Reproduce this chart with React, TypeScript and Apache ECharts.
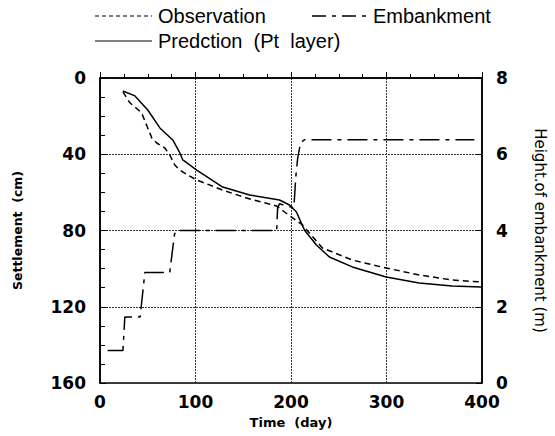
import React, { useEffect, useRef } from "react";
import * as echarts from "echarts";

// Observation (dashed)
const obsDays = [24, 31.3, 43.5, 50, 54.3, 59.5, 67.9, 73.1, 78.3, 83.6, 91.9, 101.3, 128.5, 153.5, 184.8, 193.2, 212, 232.9, 264.2, 299.7, 334.2, 368.7, 399];
const obsSettle = [7.3, 13, 18.2, 26.2, 31.5, 34.1, 36.7, 40.4, 45.6, 48.3, 50.9, 53.5, 58.8, 63, 67.1, 70.3, 77.1, 89.2, 95.5, 99.7, 103.3, 106, 107];

// Prediction (solid)
const predDays = [24, 36.6, 50, 62.7, 76.2, 83.6, 86.7, 101.3, 128.5, 156.7, 188, 198.4, 205.7, 214, 226.6, 240.2, 264.2, 299.7, 334.2, 368.7, 399];
const predSettle = [6.8, 9.4, 16.8, 26.2, 32.5, 39.3, 43, 48.3, 57.2, 61.4, 64, 66.6, 70.3, 79.7, 87.6, 93.9, 99.1, 104.4, 107.5, 109.1, 109.6];

// Embankment height (dash-dot, right axis)
const embDays = [8, 24, 26, 42, 47, 73, 78, 80, 185, 186, 188, 195, 203, 205, 207, 210, 214, 392];
const embHeight = [0.85, 0.85, 1.73, 1.73, 2.9, 2.9, 3.9, 4.0, 4.0, 4.6, 4.7, 4.65, 4.6, 5.4, 5.9, 6.3, 6.38, 6.38];

const xTicks = [0, 100, 200, 300, 400];
const leftTicks = [0, 40, 80, 120, 160];
const rightTicks = [0, 2, 4, 6, 8];

const FONT = "DejaVu Sans";
const LFONT = "Liberation Sans";

export default function App() {
  const ref = useRef<HTMLDivElement>(null);
  useEffect(() => {
    if (!ref.current) return;
    const chart = echarts.init(ref.current, undefined, { renderer: "svg" });
    const zip = (a: number[], b: number[]) => a.map((v, i) => [v, b[i]]);
    const axisLabel = { color: "#000", fontSize: 17, fontWeight: "bold" as any, fontFamily: FONT };
    const split = { show: true, lineStyle: { color: "#333", type: [2, 1] as any, width: 1 } };
    chart.setOption({
      animation: false,
      backgroundColor: "#fff",
      grid: { left: 100, right: 72, top: 78, bottom: 53, show: true, borderColor: "#000", borderWidth: 1.5 },
      xAxis: {
        type: "value",
        min: xTicks[0],
        max: xTicks[xTicks.length - 1],
        interval: 100,
        axisLine: { lineStyle: { color: "#000", width: 1.5 } },
        axisTick: { inside: true, length: 6, lineStyle: { color: "#000" } },
        minorTick: { show: true, splitNumber: 4, length: 4, lineStyle: { color: "#000" } },
        axisLabel: { ...axisLabel, margin: 10 },
        splitLine: split,
        name: "Time  (day)",
        nameLocation: "middle",
        nameGap: 33,
        nameTextStyle: { color: "#000", fontSize: 13, fontWeight: "bold", fontFamily: FONT },
      },
      yAxis: [
        {
          type: "value",
          inverse: true,
          min: leftTicks[0],
          max: leftTicks[leftTicks.length - 1],
          interval: 40,
          axisLine: { show: true, lineStyle: { color: "#000", width: 1.5 } },
          axisTick: { show: true, inside: true, length: 6, lineStyle: { color: "#000" } },
          minorTick: { show: true, splitNumber: 4, length: 5, lineStyle: { color: "#000" } },
          axisLabel: { ...axisLabel, margin: 14 },
          splitLine: split,
          name: "Settlement  (cm)",
          nameLocation: "middle",
          nameGap: 76,
          nameTextStyle: { color: "#000", fontSize: 12.5, fontWeight: "bold", fontFamily: FONT },
        },
        {
          type: "value",
          position: "right",
          min: rightTicks[0],
          max: rightTicks[rightTicks.length - 1],
          interval: 2,
          axisLine: { show: true, lineStyle: { color: "#000", width: 1.5 } },
          axisTick: { show: true, inside: true, length: 6, lineStyle: { color: "#000" } },
          axisLabel: { ...axisLabel, margin: 14 },
          splitLine: { show: false },
          name: "Height.of embankment (m)",
          nameLocation: "middle",
          nameRotate: -90,
          nameGap: 50,
          nameTextStyle: { color: "#000", fontSize: 15, fontFamily: FONT },
        },
      ],
      series: [
        {
          name: "Observation",
          type: "line",
          yAxisIndex: 0,
          data: zip(obsDays, obsSettle),
          showSymbol: false,
          lineStyle: { color: "#000", width: 1.5, type: [6, 4] as any },
        },
        {
          name: "Predction (Pt layer)",
          type: "line",
          yAxisIndex: 0,
          data: zip(predDays, predSettle),
          showSymbol: false,
          lineStyle: { color: "#000", width: 1.5 },
        },
        {
          name: "Embankment",
          type: "line",
          yAxisIndex: 1,
          data: zip(embDays, embHeight),
          showSymbol: false,
          lineStyle: { color: "#000", width: 1.5, type: [20, 6, 4, 6] as any },
        },
      ],
      graphic: [
        { type: "line", shape: { x1: 95, y1: 16, x2: 152, y2: 16 }, style: { stroke: "#000", lineWidth: 1.2, lineDash: [4, 3] } },
        { type: "text", x: 158, y: 16, style: { text: "Observation", fontSize: 20, fontFamily: LFONT, fill: "#000", verticalAlign: "middle" } },
        { type: "line", shape: { x1: 312, y1: 16, x2: 368, y2: 16 }, style: { stroke: "#000", lineWidth: 1.5, lineDash: [14, 6, 4, 6] } },
        { type: "text", x: 373, y: 16, style: { text: "Embankment", fontSize: 20, fontFamily: LFONT, fill: "#000", verticalAlign: "middle" } },
        { type: "line", shape: { x1: 95, y1: 41, x2: 152, y2: 41 }, style: { stroke: "#000", lineWidth: 1.2 } },
        { type: "text", x: 158, y: 41, style: { text: "Predction  (Pt  layer)", fontSize: 20, fontFamily: LFONT, fill: "#000", verticalAlign: "middle" } },
      ],
    });
    return () => chart.dispose();
  }, []);
  return <div ref={ref} style={{ position: "fixed", left: 0, top: 0, width: 555, height: 436 }} />;
}
